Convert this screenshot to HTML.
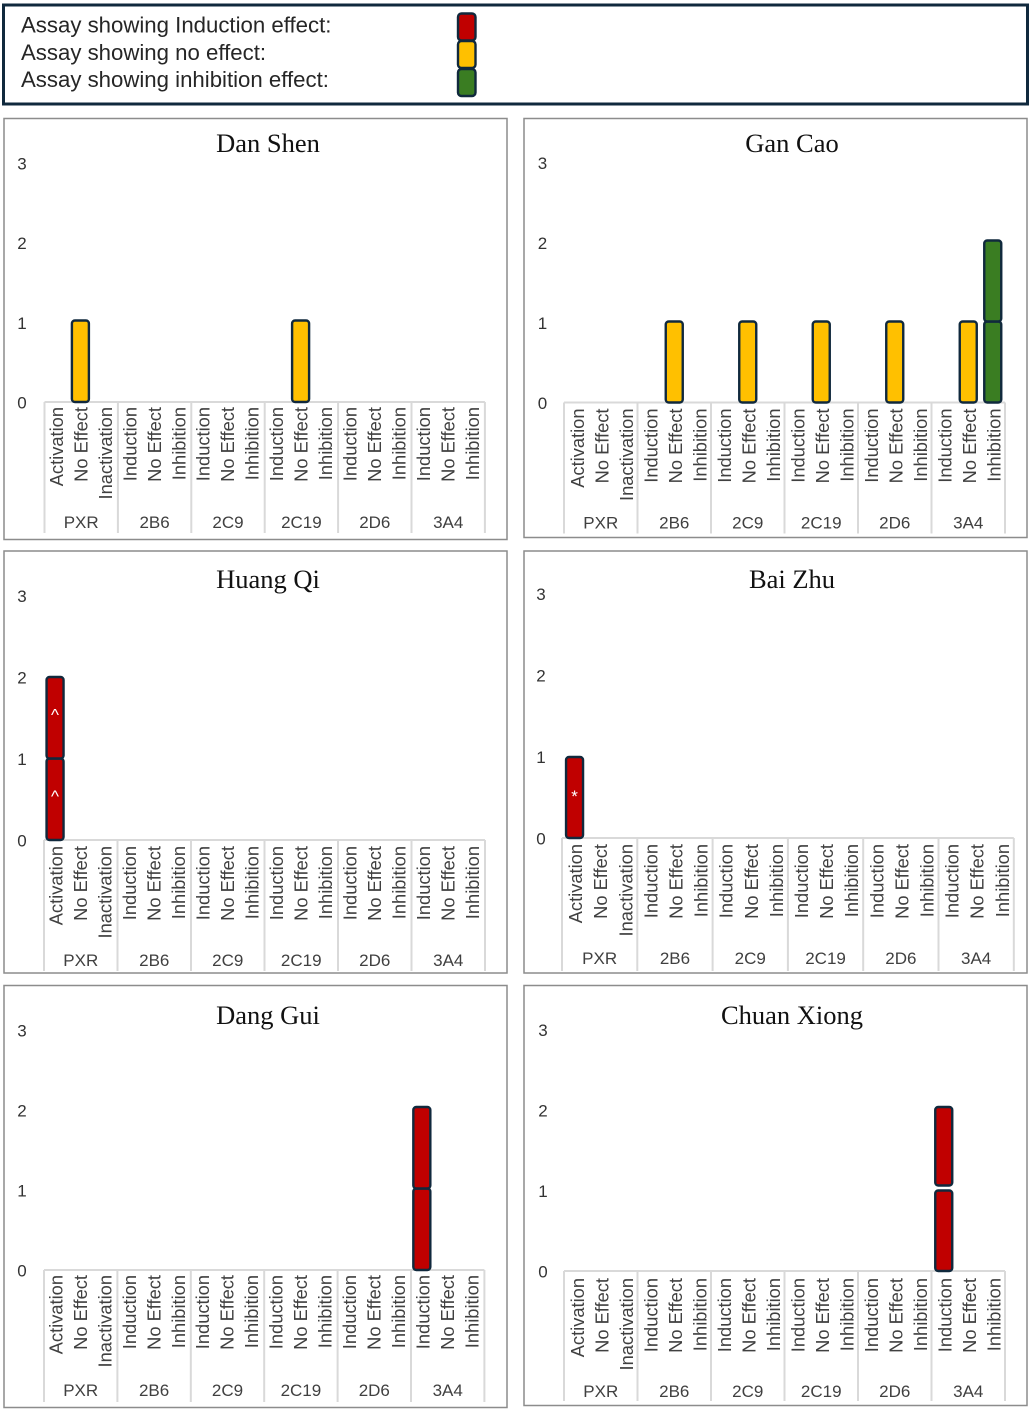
<!DOCTYPE html>
<html lang="en">
<head>
<meta charset="utf-8">
<title>Assay effects by herb</title>
<style>
html,body{margin:0;padding:0;background:#fff;}
svg{display:block;}
.legend-text{font-family:"Liberation Sans",sans-serif;font-size:22.2px;fill:#262626;}
.title{font-family:"Liberation Serif",serif;font-size:26.5px;fill:#111;text-anchor:middle;}
.tick{font-family:"Liberation Sans",sans-serif;font-size:17px;fill:#333;text-anchor:middle;dominant-baseline:central;}
.cat{font-family:"Liberation Sans",sans-serif;font-size:18.3px;fill:#404040;text-anchor:end;dominant-baseline:central;}
.group{font-family:"Liberation Sans",sans-serif;font-size:17px;fill:#404040;text-anchor:middle;}
.marker{font-family:"Liberation Sans",sans-serif;font-size:17px;fill:#fff;text-anchor:middle;dominant-baseline:central;}
</style>
</head>
<body>
<svg id="figure" width="1031" height="1410" viewBox="0 0 1031 1410" xmlns="http://www.w3.org/2000/svg">
  <rect width="1031" height="1410" fill="#fff"/>
  <g>
    <rect x="3.5" y="5" width="1024" height="99" fill="#fff" stroke="#10293d" stroke-width="3"/>
    <text class="legend-text" x="21" y="32.5">Assay showing Induction effect:</text>
    <text class="legend-text" x="21" y="60">Assay showing no effect:</text>
    <text class="legend-text" x="21" y="87">Assay showing inhibition effect:</text>
    <rect x="458" y="13.5" width="17.5" height="27" rx="3.5" fill="#c00000" stroke="#10293d" stroke-width="2.4"/>
    <rect x="458" y="41" width="17.5" height="27" rx="3.5" fill="#ffc000" stroke="#10293d" stroke-width="2.4"/>
    <rect x="458" y="69" width="17.5" height="27" rx="3.5" fill="#3a7d22" stroke="#10293d" stroke-width="2.4"/>
  </g>
  <g id="dan-shen"><rect x="4" y="118.5" width="503" height="421" fill="#fff" stroke="#8c8c8c" stroke-width="1.5"/><text class="title" x="268" y="152">Dan Shen</text></g>
  <g id="gan-cao"><rect x="524" y="118.5" width="503" height="419" fill="#fff" stroke="#8c8c8c" stroke-width="1.5"/><text class="title" x="792" y="152">Gan Cao</text></g>
  <g id="huang-qi"><rect x="4" y="551" width="503" height="422" fill="#fff" stroke="#8c8c8c" stroke-width="1.5"/><text class="title" x="268" y="588">Huang Qi</text></g>
  <g id="bai-zhu"><rect x="524" y="551" width="503" height="422" fill="#fff" stroke="#8c8c8c" stroke-width="1.5"/><text class="title" x="792" y="588">Bai Zhu</text></g>
  <g id="dang-gui"><rect x="4" y="985.5" width="503" height="422" fill="#fff" stroke="#8c8c8c" stroke-width="1.5"/><text class="title" x="268" y="1024">Dang Gui</text></g>
  <g id="chuan-xiong"><rect x="524" y="985.5" width="503" height="420" fill="#fff" stroke="#8c8c8c" stroke-width="1.5"/><text class="title" x="792" y="1024">Chuan Xiong</text></g>
</svg>
<script>
const yTickLabels = [0, 1, 2, 3];
const groupLabels = ["PXR", "2B6", "2C9", "2C19", "2D6", "3A4"];
const pxrCategories = ["Activation", "No Effect", "Inactivation"];
const enzymeCategories = ["Induction", "No Effect", "Inhibition"];
const danShenValues = [0,1,0, 0,0,0, 0,0,0, 0,1,0, 0,0,0, 0,0,0];
const ganCaoValues = [0,0,0, 0,1,0, 0,1,0, 0,1,0, 0,1,0, 0,1,2];
const huangQiValues = [2,0,0, 0,0,0, 0,0,0, 0,0,0, 0,0,0, 0,0,0];
const baiZhuValues = [1,0,0, 0,0,0, 0,0,0, 0,0,0, 0,0,0, 0,0,0];
const dangGuiValues = [0,0,0, 0,0,0, 0,0,0, 0,0,0, 0,0,0, 2,0,0];
const chuanXiongValues = [0,0,0, 0,0,0, 0,0,0, 0,0,0, 0,0,0, 2,0,0];
const effectColors = ["#c00000", "#ffc000", "#3a7d22"];

const charts = [
  {id:"dan-shen", values:danShenValues, axisY:402, unit:79.7, barUnit:81.5, left:44.5, groupW:73.4, sepH:131, tickX:22, tickDy:1, labelOff:5, catDx:-0.3, barDx:-0.8},
  {id:"gan-cao", values:ganCaoValues, axisY:402.5, unit:80, barUnit:81, left:564, groupW:73.5, sepH:131, tickX:542.5, tickDy:1, labelOff:6, catDx:1, barDx:0},
  {id:"huang-qi", values:huangQiValues, axisY:840, unit:81.5, barUnit:81.5, left:44, groupW:73.5, sepH:131, tickX:22, tickDy:1, labelOff:6, catDx:-0.3, barDx:-1.2, marker:"^", markerDy:-3},
  {id:"bai-zhu", values:baiZhuValues, axisY:838, unit:81.5, barUnit:81, left:562, groupW:75.3, sepH:133, tickX:541, tickDy:1, labelOff:6, catDx:1, barDx:0, marker:"*", markerDy:-1},
  {id:"dang-gui", values:dangGuiValues, axisY:1270, unit:80, barUnit:81.5, left:44, groupW:73.4, sepH:132, tickX:22, tickDy:1, labelOff:5, catDx:-0.3, barDx:-1.4},
  {id:"chuan-xiong", values:chuanXiongValues, axisY:1271, unit:80.5, barUnit:82, left:564, groupW:73.5, sepH:130, tickX:543, tickDy:1, labelOff:7, catDx:1, barDx:0, gapBelow:1.5, gapAbove:3.5}
];

const NS = "http://www.w3.org/2000/svg";
function make(parent, tag, attrs, text) {
  const node = document.createElementNS(NS, tag);
  for (const key in attrs) node.setAttribute(key, attrs[key]);
  if (text !== undefined) node.textContent = text;
  parent.appendChild(node);
  return node;
}

charts.forEach(function (c) {
  const root = document.getElementById(c.id);
  const colW = c.groupW / 3;
  const xCenter = function (i) { return c.left + colW * (i + 0.5); };
  const yTick = function (v) { return c.axisY - v * c.unit; };
  const yBar = function (v) { return c.axisY - v * c.barUnit; };

  yTickLabels.forEach(function (v) {
    const t = make(root, "text", {class:"tick", x:c.tickX, y:yTick(v) + c.tickDy}, v);
    
    
  });

  const axis = make(root, "line", {x1:c.left, x2:c.left + c.groupW * groupLabels.length, y1:c.axisY, y2:c.axisY, stroke:"#d9d9d9", "stroke-width":2});
  
  

  for (let g = 0; g <= groupLabels.length; g++) {
    const sep = make(root, "line", {x1:c.left + g * c.groupW, x2:c.left + g * c.groupW, y1:c.axisY, y2:c.axisY + c.sepH, stroke:"#d9d9d9", "stroke-width":2});
    
    
  }

  groupLabels.forEach(function (name, g) {
    const t = make(root, "text", {class:"group", x:c.left + (g + 0.5) * c.groupW, y:c.axisY + 126}, name);
    
    
    const cats = g === 0 ? pxrCategories : enzymeCategories;
    cats.forEach(function (cat, k) {
      const x = xCenter(g * 3 + k) + c.catDx;
      const y = c.axisY + c.labelOff;
      const label = make(root, "text", {class:"cat", transform:"translate(" + x + "," + y + ") rotate(-90)", x:0, y:0}, cat);
      
      
    });
  });

  c.values.forEach(function (value, i) {
    for (let s = 0; s < value; s++) {
      const top = yBar(s + 1) + (s + 1 < value ? (c.gapBelow || 0) : 0);
      const bottom = yBar(s) - (s > 0 ? (c.gapAbove || 0) : 0);
      const cx = xCenter(i) + c.barDx;
      const bar = make(root, "rect", {x:cx - 8.5, y:top, width:17, height:bottom - top, rx:3, fill:effectColors[i % 3], stroke:"#10293d", "stroke-width":2.4});
      
      
      if (c.marker) {
        const m = make(root, "text", {class:"marker", x:cx, y:(top + bottom) / 2 + c.markerDy}, c.marker);
        
        
      }
    }
  });
});
</script>
</body>
</html>
